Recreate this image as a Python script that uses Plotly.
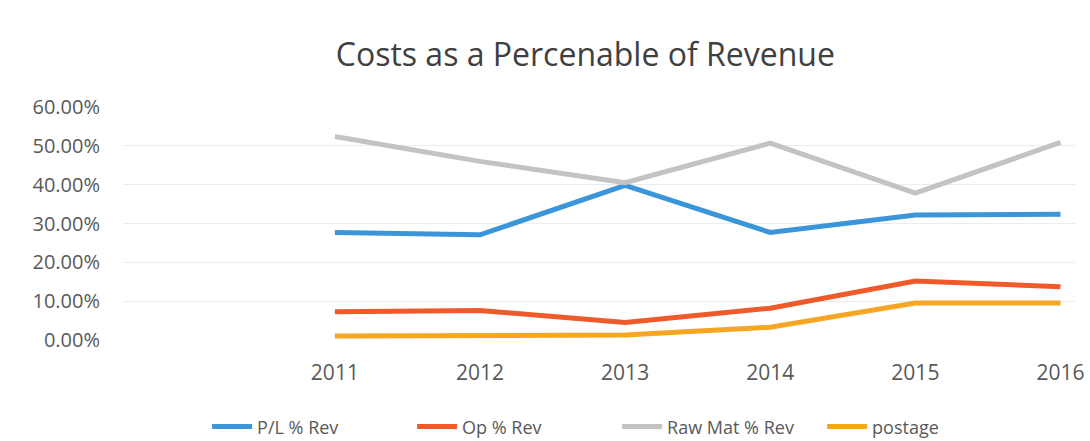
import plotly.graph_objects as go

# Fiscal years and cost ratios (share of revenue)
years = [2011, 2012, 2013, 2014, 2015, 2016]
pl_rev = [0.277, 0.271, 0.398, 0.277, 0.322, 0.324]
op_rev = [0.073, 0.076, 0.045, 0.082, 0.152, 0.137]
raw_mat_rev = [0.524, 0.460, 0.405, 0.507, 0.378, 0.509]
postage = [0.010, 0.010, 0.013, 0.033, 0.095, 0.095]

series = [
    ("P/L % Rev", pl_rev, "#3a96d8"),
    ("Op % Rev", op_rev, "#ef5a2b"),
    ("Raw Mat % Rev", raw_mat_rev, "#c3c3c3"),
    ("postage", postage, "#f6a623"),
]

font_family = "Open Sans, Noto Sans, sans-serif"

fig = go.Figure()
for name, values, color in series:
    fig.add_trace(go.Scatter(
        x=years, y=values, name=name, mode="lines",
        line=dict(color=color, width=5),
    ))

fig.update_layout(
    width=1090, height=441,
    paper_bgcolor="white", plot_bgcolor="white",
    margin=dict(l=123, r=15, t=107, b=101, autoexpand=False),
    title=dict(
        text="Costs as a Percenable of Revenue",
        x=0.537, xanchor="center", y=0.875, yanchor="middle",
        font=dict(family=font_family, size=32, color="#404040"),
    ),
    xaxis=dict(
        range=[2009.54, 2016.1],
        tickvals=years, ticktext=[str(y) for y in years],
        showgrid=False, zeroline=False, showline=False,
        tickfont=dict(family=font_family, size=21, color="#595959"),
        ticklabelstandoff=18,
    ),
    yaxis=dict(
        range=[0, 0.6], dtick=0.1, tickformat=".2%",
        showgrid=True, gridcolor="#ececec", gridwidth=1,
        zeroline=False, showline=False,
        tickfont=dict(family=font_family, size=20, color="#595959"),
        ticklabelstandoff=22,
    ),
    legend=dict(
        orientation="h", xref="container", x=0.19, xanchor="left",
        yref="container", y=0.032, yanchor="middle",
        font=dict(family=font_family, size=18, color="#595959"),
        itemwidth=40, entrywidth=150, tracegroupgap=0,
    ),
    showlegend=True,
)

fig.write_html("out.html")
